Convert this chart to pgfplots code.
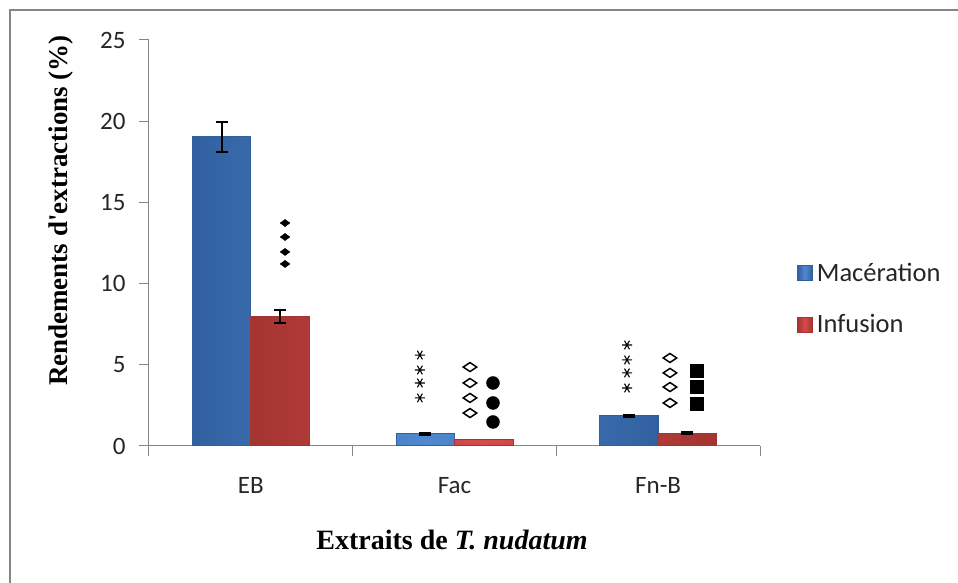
\documentclass[border=0pt]{standalone}
\usepackage{fontspec}
\setmainfont{Carlito}
\newfontfamily\timesf{Liberation Serif}
\usepackage{pgfplots}
\pgfplotsset{compat=1.18}
\definecolor{bluelight}{HTML}{5089D0}
\definecolor{bluedark}{HTML}{30609F}
\definecolor{redlight}{HTML}{D64B47}
\definecolor{reddark}{HTML}{A33431}
\definecolor{axgray}{HTML}{868686}
\definecolor{txt}{HTML}{262626}
\begin{document}
\begin{tikzpicture}
\useasboundingbox (-149pt,-137pt) rectangle (809pt,446pt);
\draw[axgray, line width=2pt] (900pt,436pt) -- (-139pt,436pt) -- (-139pt,-200pt);
\begin{axis}[
  at={(0,0)}, anchor=south west,
  scale only axis, width=611pt, height=406pt,
  xmin=-0.5, xmax=2.5, ymin=0, ymax=25,
  axis lines=left, axis line style={-, draw=axgray, line width=1pt},
  xtick={0,1,2}, xticklabels={EB,Fac,Fn-B},
  major x tick style={draw=none},
  minor xtick={-0.5,0.5,1.5,2.5},
  ytick={0,5,10,15,20,25},
  tick align=outside, tick style={axgray, line width=1pt},
  major tick length=10pt, minor tick length=10pt,
  ticklabel style={font=\fontsize{25}{29}\selectfont, text=txt},
  /pgf/number format/assume math mode=true,
  yticklabel style={xshift=-10pt},
  xticklabel style={yshift=-18pt},
  xlabel={\timesf\bfseries Extraits de \itshape T. nudatum},
  ylabel={\timesf\bfseries Rendements d'extractions (\%)},
  every axis x label/.style={at={(axis description cs:0.496,-0.2315)}, anchor=center,
    font=\fontsize{28}{32}\selectfont, text=black},
  every axis y label/.style={at={(axis description cs:-0.144,0.58)}, anchor=center, rotate=90,
    font=\fontsize{27}{31}\selectfont, text=black},
  legend style={at={(axis description cs:1.06,0.363)}, anchor=west, draw=none, fill=none,
    font=\fontsize{26.5}{30}\selectfont, row sep=24pt, inner sep=0pt, text=txt,
    nodes={inner sep=4pt}},
  legend cell align=left,
]
\addplot[ybar, bar width=58.5pt, bar shift=0pt, draw=bluedark, line width=1pt,
  left color=bluedark, right color=bluedark, middle color=bluelight,
  legend image code/.code={\draw[draw=bluedark, left color=bluedark, right color=bluedark, middle color=bluelight] (0pt,-7.5pt) rectangle (15pt,7.5pt);}]
  coordinates {(-0.1436,19.05) (0.8564,0.74) (1.8564,1.85)};
\addlegendentry{Macération}
\addplot[ybar, bar width=58.5pt, bar shift=0pt, draw=reddark, line width=1pt,
  left color=reddark, right color=reddark, middle color=redlight,
  legend image code/.code={\draw[draw=reddark, left color=reddark, right color=reddark, middle color=redlight] (0pt,-7.5pt) rectangle (15pt,7.5pt);}]
  coordinates {(0.1436,8.0) (1.1436,0.37) (2.1436,0.8)};
\addlegendentry{Infusion}
% error bars
\addplot[draw=none, mark=none, forget plot, line width=2pt,
  error bars/.cd, y dir=both, y explicit,
  error bar style={draw=black, line width=2pt},
  error mark options={rotate=90, mark size=6pt, line width=2pt, draw=black}]
  coordinates {(-0.1436,19.05) +- (0,0.92) (0.8564,0.74) +- (0,0.05) (1.8564,1.85) +- (0,0.05)
               (0.1436,8.0) +- (0,0.4) (2.1436,0.8) +- (0,0.05)};
% significance markers
\addplot[only marks, forget plot, mark=diamond*, mark size=6.5pt,
  mark options={yscale=0.55, fill=black, draw=black}]
  coordinates {(0.168,13.73) (0.168,12.87) (0.168,11.95) (0.168,11.21)};
\addplot[only marks, forget plot, mark=asterisk, mark size=5pt,
  mark options={rotate=90, draw=black, line width=1.1pt}]
  coordinates {(0.830,5.60) (0.830,4.68) (0.830,3.88) (0.830,2.96)
               (1.847,6.22) (1.847,5.30) (1.847,4.50) (1.847,3.57)};
\addplot[only marks, forget plot, mark=diamond, mark size=9pt,
  mark options={yscale=0.5, draw=black, line width=1.5pt}]
  coordinates {(1.076,4.86) (1.076,3.88) (1.076,2.96) (1.076,2.03)
               (2.058,5.42) (2.058,4.50) (2.058,3.63) (2.058,2.65)};
\addplot[only marks, forget plot, mark=*, mark size=6.5pt,
  mark options={fill=black, draw=black}]
  coordinates {(1.189,3.88) (1.189,2.65) (1.189,1.48)};
\addplot[only marks, forget plot, mark=square*, mark size=6.5pt,
  mark options={fill=black, draw=black}]
  coordinates {(2.190,4.62) (2.190,3.63) (2.190,2.59)};
\end{axis}
\end{tikzpicture}
\end{document}
